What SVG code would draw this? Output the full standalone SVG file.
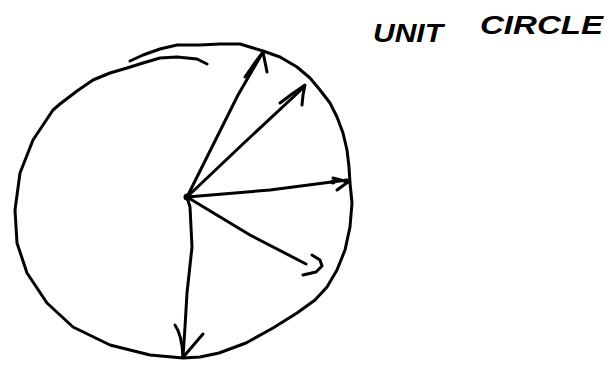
<svg xmlns="http://www.w3.org/2000/svg" width="613" height="367" viewBox="0 0 613 367">
<style>
.ink{fill:none;stroke:#000;stroke-width:3;stroke-linecap:round;stroke-linejoin:round}
.title{font-family:"Liberation Sans",Arial,sans-serif;font-weight:bold;font-style:italic;font-size:25px;fill:#000}
</style>
<rect width="613" height="367" fill="#fff"/>
<g id="circle">
<path class="ink" d="M130,61 L143,55 L160,49 L177,45 L200,45 L220,44 L240,44 L263,51 L280,57 L297,67 L310,78 L320,90 L330,103 L337,117 L343,133 L347,150 L349,167 L350,183 L352,203 L350,227 L345,250 L337,270 L327,287 L315,300 L297,313 L273,328 L246,343 L219,353 L200,357 L183,358 L150,355 L110,345 L73,327 L47,303 L27,273 L17,243 L15,210 L20,173 L33,140 L53,110 L60,104 L77,91 L93,80 L110,73 L127,68 L143,63 L160,58 L177,57 L197,59 L207,64"/>
</g>
<g id="center"><circle cx="187" cy="197" r="3.5" fill="#000"/></g>
<g id="connectors">
<g id="v1"><path class="ink" d="M187,197 L212,147 L238,95 L263,52"/><path class="ink" d="M245,77 L254,64 L263,52 L265,62 L267,72"/></g>
<g id="v2"><path class="ink" d="M187,197 L245,142 L303,88"/><path class="ink" d="M280,103 L292,94 L305,85 L303,95 L302,105"/></g>
<g id="v3"><path class="ink" d="M187,197 L270,190 L347,180"/><path class="ink" d="M333,178 L348,182 L337,190"/><circle cx="333" cy="182" r="2.5" fill="#000"/></g>
<g id="v4"><path class="ink" d="M187,197 L250,235 L306,264"/><path class="ink" d="M312,255 L320,260 L322,266 L316,272 L303,275"/></g>
<g id="v5"><path class="ink" d="M187,197 L190,207 L192,247 L187,293 L185,327 L183,357"/><path class="ink" d="M175,325 Q182,335 183,357"/><path class="ink" d="M203,334 L185,355"/></g>
</g>
<g id="label">
<text class="title" x="373" y="42" textLength="70" lengthAdjust="spacingAndGlyphs">UNIT</text>
<text class="title" x="480" y="34" textLength="123" lengthAdjust="spacingAndGlyphs">CIRCLE</text>
</g>
</svg>
